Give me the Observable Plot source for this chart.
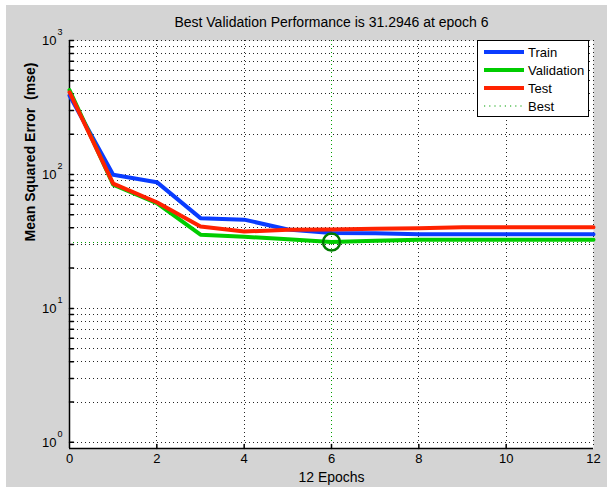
<!DOCTYPE html>
<html>
<head>
<meta charset="utf-8">
<script src="https://cdn.jsdelivr.net/npm/d3@7"></script>
<script src="https://cdn.jsdelivr.net/npm/@observablehq/plot@0.6"></script>
<style>
  html, body { margin: 0; padding: 0; background: #ffffff; }
  #wrap { position: relative; width: 607px; height: 487px; overflow: hidden; }
  #chart { position: absolute; left: 6px; top: 5px; }
  #chart svg text { white-space: pre; }
  #legend { position: absolute; left: 477px; top: 40px; width: 110px; height: 75px;
            border: 1px solid #000; background: #fff;
            font-family: "Liberation Sans", Arial, sans-serif; font-size: 13px; }
  .lrow { position: absolute; left: 5px; height: 16px; display: flex; align-items: center; }
  .lrow svg { width: 42px; height: 8px; margin-right: 3px; }
</style>
</head>
<body>
<div id="wrap">
  <div id="chart"></div>
  <div id="legend"></div>
</div>
<script>
// ---- data ----
const epochs     = [0, 1, 2, 3, 4, 5, 6, 7, 8, 9, 10, 11, 12];
const train      = [389, 99.5, 87.6, 47.2, 46.0, 38.8, 36.6, 36.4, 35.8, 35.8, 35.8, 35.8, 35.8];
const validation = [427, 84.0, 61.0, 35.5, 34.3, 32.8, 31.2946, 32.0, 32.6, 32.6, 32.6, 32.6, 32.6];
const test       = [411, 85.3, 62.0, 40.9, 37.5, 38.6, 38.9, 39.3, 39.6, 40.4, 40.4, 40.4, 40.4];
const bestEpoch  = 6;
const bestValue  = 31.2946;

const seriesNames  = ["Train", "Validation", "Test", "Best"];
const seriesColors = ["#0a3cff", "#00cc00", "#ff2200", "#00a000"];

const xTicks     = [0, 2, 4, 6, 8, 10, 12];
const xGridTicks = [2, 4, 6, 8, 10, 12];
const yMajor     = [1, 10, 100, 1000];
const yMinorMult = [1, 2, 3, 4, 5, 6, 7, 8, 9];
const xDomain    = [0, 12];
const yDomain    = [0.9, 1000];

const titleText  = "Best Validation Performance is 31.2946 at epoch 6";
const xLabelText = "12 Epochs";
const yLabelText = "Mean Squared Error  (mse)";

// ---- derived tables ----
const rows = epochs.map((e, i) => ({epoch: e, train: train[i], validation: validation[i], test: test[i]}));
const yGrid = [...yMajor.slice(0, -1).flatMap(p => yMinorMult.map(m => m * p)), yMajor[yMajor.length - 1]];
const tickShape = {draw(context, l) { context.moveTo(0, 0); context.lineTo(0, -l); }};
const font = "Liberation Sans, Arial, Helvetica, sans-serif";
const gridStyle = {stroke: "#000", strokeOpacity: 0.85, strokeDasharray: "1,3", shapeRendering: "crispEdges"};

const chart = Plot.plot({
  width: 601,
  height: 482,
  marginLeft: 63,
  marginRight: 14,
  marginTop: 35,
  marginBottom: 39,
  style: {background: "#d4d4d4", fontFamily: font, fontSize: "13px", color: "#000"},
  x: {domain: xDomain, label: null},
  y: {type: "log", domain: yDomain, axis: null},
  marks: [
    Plot.frame({fill: "white", stroke: null}),
    Plot.gridY(yGrid, gridStyle),
    Plot.gridX(xGridTicks, gridStyle),
    Plot.ruleY([bestValue], {x1: xDomain[0], x2: xDomain[1], stroke: seriesColors[3], strokeDasharray: "1,3", strokeWidth: 1, shapeRendering: "crispEdges"}),
    Plot.ruleX([bestEpoch], {stroke: seriesColors[3], strokeDasharray: "1,3", strokeWidth: 1, shapeRendering: "crispEdges"}),
    Plot.ruleX([xDomain[0]], {stroke: "#000", strokeWidth: 1.5}),
    Plot.ruleY([yDomain[0]], {stroke: "#000", strokeWidth: 1.5}),
    Plot.vectorY(yGrid, {y: d => d, frameAnchor: "left", length: 4, rotate: 90, anchor: "start", shape: tickShape, stroke: "#000"}),
    Plot.vectorX(xGridTicks.slice(0, -1), {x: d => d, frameAnchor: "bottom", length: 4, rotate: 0, anchor: "start", shape: tickShape, stroke: "#000"}),
    Plot.line(rows, {x: "epoch", y: "train", stroke: seriesColors[0], strokeWidth: 4}),
    Plot.line(rows, {x: "epoch", y: "validation", stroke: seriesColors[1], strokeWidth: 4}),
    Plot.line(rows, {x: "epoch", y: "test", stroke: seriesColors[2], strokeWidth: 4}),
    Plot.dot([{epoch: bestEpoch, value: bestValue}], {x: "epoch", y: "value", r: 8.5, stroke: "#007a00", strokeWidth: 2.5, fill: "none"}),
    Plot.axisX(xTicks, {tickSize: 0, tickPadding: 5, fontSize: 13, label: null}),
    Plot.text(yMajor, {y: d => d, frameAnchor: "left", text: () => "10", textAnchor: "end", dx: -13, fontSize: 13}),
    Plot.text(yMajor, {y: d => d, frameAnchor: "left", text: d => String(Math.round(Math.log10(d))), textAnchor: "start", dx: -12, dy: -8, fontSize: 9}),
    Plot.text([titleText], {frameAnchor: "top", dy: -23, fontSize: 14}),
    Plot.text([xLabelText], {frameAnchor: "bottom", dy: 33, fontSize: 14}),
    Plot.text([yLabelText], {frameAnchor: "left", dx: -39, dy: -3, rotate: -90, fontSize: 14, fontWeight: "bold"})
  ]
});
document.getElementById("chart").appendChild(chart);

// ---- legend ----
const legend = document.getElementById("legend");
const rowTops = [3, 21, 39, 57];
seriesNames.forEach((name, i) => {
  const row = document.createElement("div");
  row.className = "lrow";
  row.style.top = rowTops[i] + "px";
  const dotted = i === 3;
  row.innerHTML =
    `<svg viewBox="0 0 42 8"><line x1="1" x2="41" y1="4" y2="4" stroke="${seriesColors[i]}" ` +
    `stroke-width="${dotted ? 1.2 : 4}" ${dotted ? 'stroke-dasharray="1.2,4"' : ""}/></svg>` +
    `<span>${name}</span>`;
  legend.appendChild(row);
});
</script>
</body>
</html>
